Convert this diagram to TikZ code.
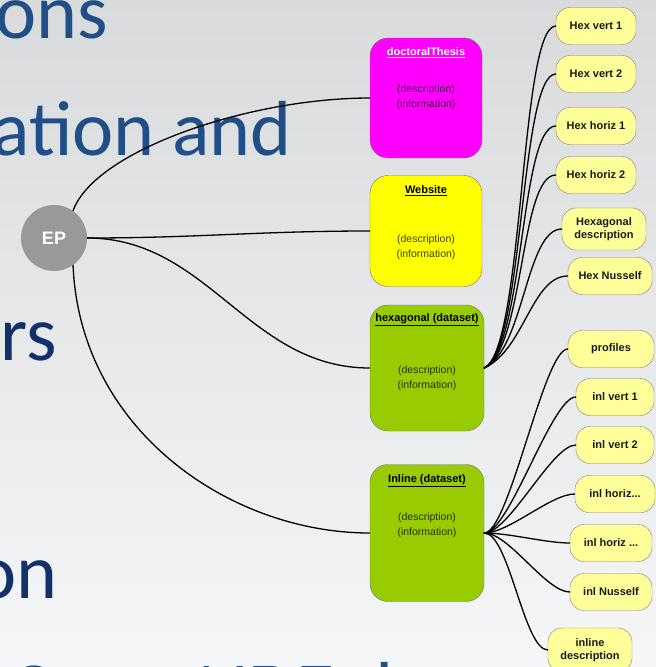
\documentclass[tikz,border=0pt]{standalone}
\usepackage{fontspec}
\setmainfont{Liberation Sans}
\newfontfamily\slidefont{Carlito}
\usetikzlibrary{shapes,arrows}
\definecolor{bgtop}{HTML}{D9DADC}
\definecolor{bgbottom}{HTML}{F5F6F7}
\definecolor{slideblue}{HTML}{1F4E89}
\definecolor{slidenavy}{HTML}{12306A}
\definecolor{thesismagenta}{HTML}{FF00FF}
\definecolor{webyellow}{HTML}{FFFF00}
\definecolor{datagreen}{HTML}{99CC00}
\definecolor{leafyellow}{HTML}{FFFF99}
\definecolor{epgray}{HTML}{999999}
\tikzstyle{slidetext} = [inner sep=0pt, anchor=base east, font=\slidefont\fontsize{78}{78}\selectfont]
\tikzstyle{hub} = [circle, fill=epgray, minimum size=66pt, inner sep=0pt, text=white, font=\bfseries\fontsize{18}{18}\selectfont]
\tikzstyle{resource} = [rectangle, rounded corners=18pt, draw=black!55, minimum width=112pt]
\tikzstyle{boxtitle} = [inner sep=1pt, font=\bfseries\fontsize{11}{12}\selectfont]
\tikzstyle{boxdesc} = [inner sep=1pt, align=center, text=black, text opacity=0.75, font=\fontsize{10.5}{15}\selectfont]
\tikzstyle{leaf} = [rectangle, rounded corners=14pt, draw=black!50, fill=leafyellow, minimum width=80pt, minimum height=37pt, inner sep=2pt, align=center, text=black!90, font=\bfseries\fontsize{11}{12.5}\selectfont]
\tikzstyle{link} = [line width=1.3pt, black, line cap=round]

\begin{document}
\begin{tikzpicture}[x=1pt,y=-1pt]
\useasboundingbox (0,0) rectangle (656,667);
\clip (0,0) rectangle (656,667);
\shade[top color=bgtop, bottom color=bgbottom] (0,0) rectangle (656,667);

% slide text behind the map
\node (ons) [slidetext, text=slideblue] at (108,38) {ons};
\node (ationand) [slidetext, text=slideblue] at (292,155) {ation and};
\node (rs) [slidetext, text=slidenavy] at (57,360) {rs};
\node (on) [slidetext, text=slidenavy] at (58,598) {on};
\node (opennde) [slidetext, text=slideblue, anchor=base west] at (8,716) {Open NDE d};

\node (ep) [hub] at (54,238) {EP};

\node (thesis) [resource, fill=thesismagenta, minimum height=120pt] at (426,98) {};
\node (thesistitle) [boxtitle, text=white] at (426,53) {\underline{doctoralThesis}};
\node (thesisdesc) [boxdesc] at (426,97) {(description)\\(information)};

\node (website) [resource, fill=webyellow, minimum height=111pt] at (426,231) {};
\node (websitetitle) [boxtitle] at (426,191) {\underline{Website}};
\node (websitedesc) [boxdesc] at (426,247) {(description)\\(information)};

\node (hexagonal) [resource, fill=datagreen, minimum width=114pt, minimum height=126pt] at (427,368) {};
\node (hexagonaltitle) [boxtitle] at (427,320) {\underline{hexagonal (dataset)}};
\node (hexagonaldesc) [boxdesc] at (427,378) {(description)\\(information)};

\node (inline) [resource, fill=datagreen, minimum width=114pt, minimum height=137pt] at (427,533) {};
\node (inlinetitle) [boxtitle] at (427,481) {\underline{Inline (dataset)}};
\node (inlinedesc) [boxdesc] at (427,525) {(description)\\(information)};

\node (hv1) [leaf] at (596,26) {Hex vert 1};
\node (hv2) [leaf] at (596,74) {Hex vert 2};
\node (hh1) [leaf] at (596,126) {Hex horiz 1};
\node (hh2) [leaf] at (596,175) {Hex horiz 2};
\node (hd) [leaf, minimum width=84pt, minimum height=42pt] at (604,229) {Hexagonal\\description};
\node (hn) [leaf, minimum width=84pt] at (610,276) {Hex Nusself};

\node (pro) [leaf, minimum width=86pt] at (611,349) {profiles};
\node (iv1) [leaf, minimum width=78pt] at (615,397) {inl vert 1};
\node (iv2) [leaf, minimum width=78pt] at (615,445) {inl vert 2};
\node (ih1) [leaf] at (615,494) {inl horiz...};
\node (ih2) [leaf, minimum width=82pt] at (611,543) {inl horiz ...};
\node (inu) [leaf, minimum width=82pt] at (611,592) {inl Nusself};
\node (ides) [leaf, minimum width=84pt, minimum height=44pt] at (590,650) {inline\\description};

\draw [link] (ep.55) .. controls (95,150) and (250,98) .. (thesis.west);
\draw [link] (ep.east) to[out=0,in=180] (website.west);
\draw [link] (ep.east) to[out=0,in=180] (hexagonal.west);
\draw [link] (ep.-55) .. controls (80,430) and (230,533) .. (inline.west);

\foreach \leaf in {hv1,hv2,hh1,hh2,hd,hn}
  \draw [link] (hexagonal.east) .. controls +(40,-18) and +(-36,0) .. (\leaf.west);
\foreach \leaf in {pro,iv1,iv2,ih1,ih2,inu,ides}
  \draw [link] (inline.east) .. controls +(25,0) and +(-24,0) .. (\leaf.west);

\end{tikzpicture}
\end{document}
